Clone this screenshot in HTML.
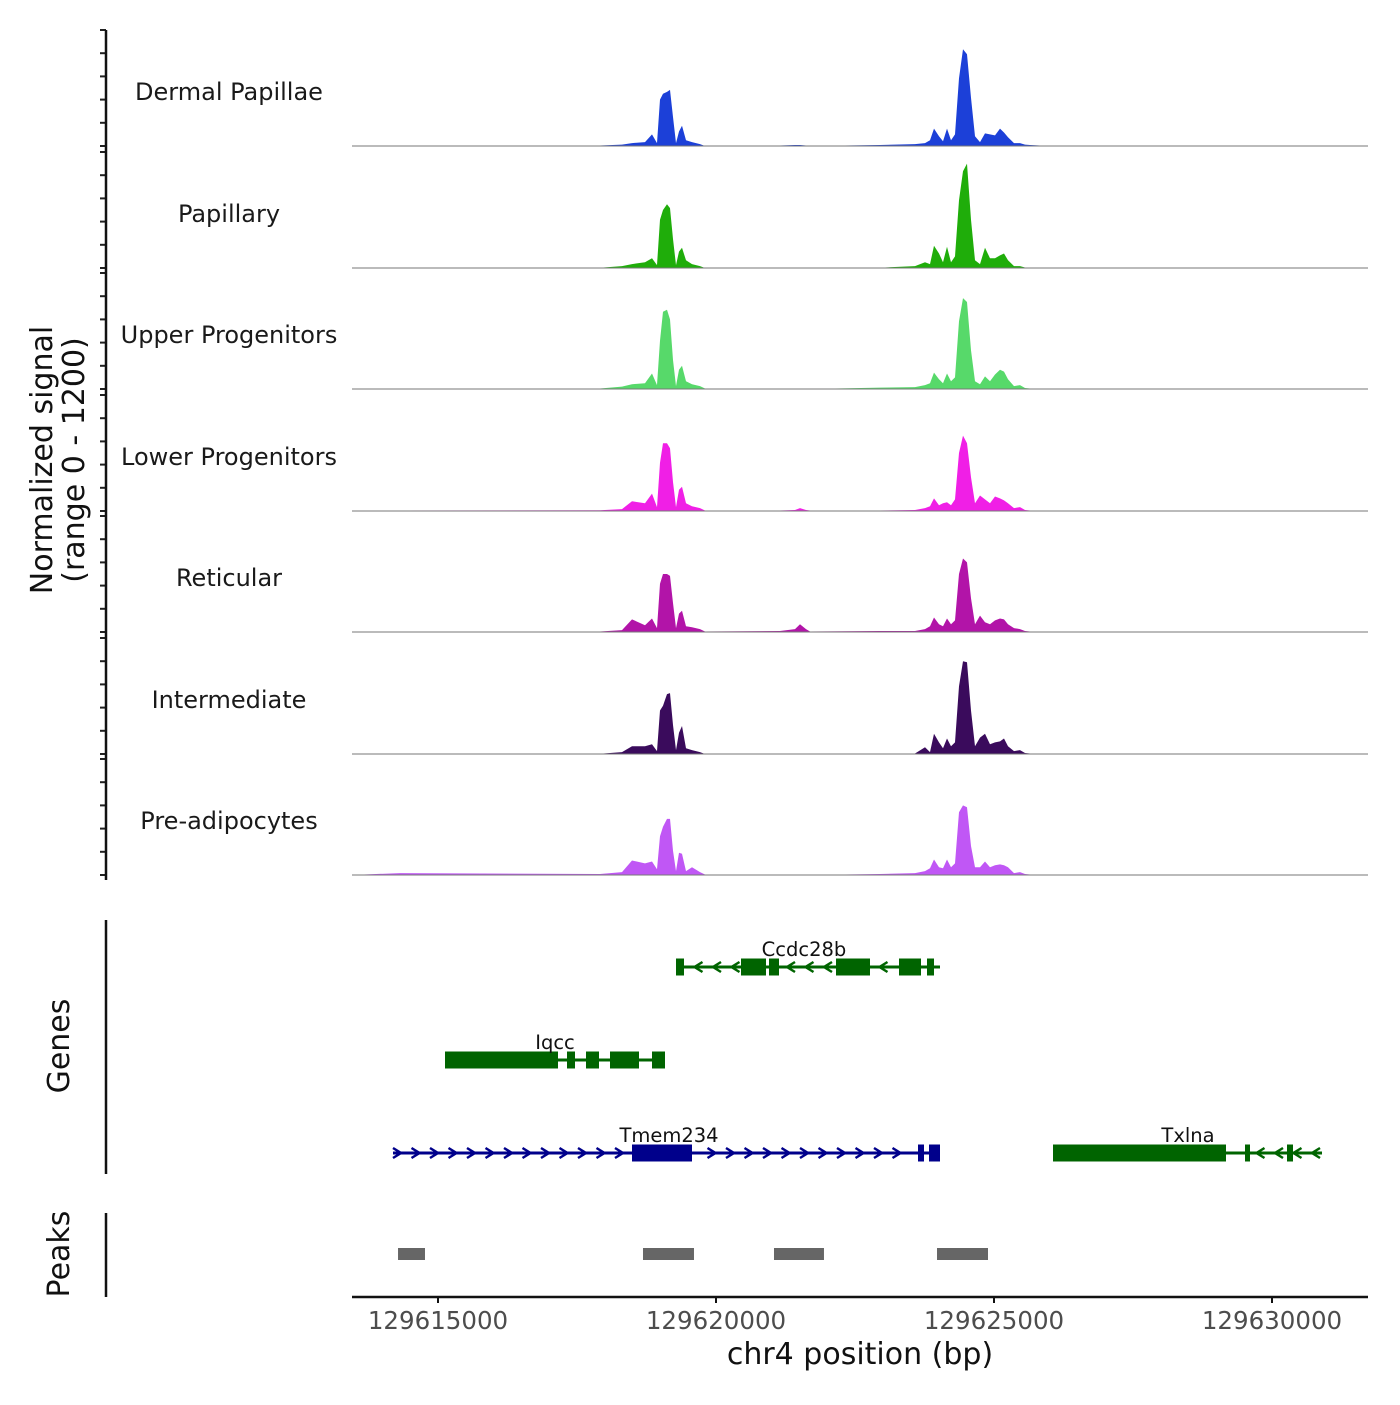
<!DOCTYPE html>
<html><head><meta charset="utf-8"><style>
body{margin:0;background:#fff}
svg text{font-family:"DejaVu Sans","Liberation Sans",sans-serif}
</style></head><body>
<svg id="chart" width="1400" height="1400" viewBox="0 0 1400 1400" xmlns="http://www.w3.org/2000/svg">
<g id="tracks"></g>
<g id="genes"></g>
<g id="peaks"></g>
<g id="axes"></g>
</svg>
<script>
const trackNames=["Dermal Papillae","Papillary","Upper Progenitors","Lower Progenitors","Reticular","Intermediate","Pre-adipocytes"];
const trackColors=["#1c40d8","#1fad0a","#57d96a","#f01fe6","#b214a8","#3a0b5c","#c057f5"];
const pxPts=[352,400,600,622,632,645,652,657,660,663,667,670,673,676,679,682,686,692,700,705,780,795,800,806,810,880,915,925,930,934,939,943,947,951,955,959,963,967,971,975,980,985,990,995,1000,1004,1008,1014,1020,1025,1030,1045,1368];
const sigPos=pxPts.map(p=>Math.round(129615000+(p-438)*5000/278));
const sigDP=[0,2,5,15,30,40,120,30,480,540,560,580,300,30,150,210,60,40,20,0,5,10,10,5,0,10,20,30,60,180,100,50,180,60,120,700,1000,950,500,100,40,130,120,110,180,140,90,30,30,15,10,2,0];
const sigPap=[0,2,3,20,40,60,100,30,500,600,660,620,300,30,170,210,80,40,20,0,2,2,2,2,0,3,20,60,40,230,150,60,220,60,120,700,1000,1080,500,80,40,210,100,100,130,150,80,20,20,5,2,0,0];
const sigUP=[0,5,5,25,50,60,160,40,500,800,820,720,300,30,200,240,80,50,30,5,5,5,5,5,0,15,20,40,60,170,100,60,160,80,120,700,940,900,400,80,50,130,80,150,200,180,100,30,40,10,5,2,0];
const sigLP=[0,5,8,20,100,80,180,40,500,700,700,650,300,40,220,250,80,50,30,5,5,10,30,10,5,5,10,30,50,130,60,80,90,60,120,600,780,700,350,80,160,120,80,150,130,110,80,30,40,10,5,2,0];
const sigRet=[0,5,5,20,130,70,140,40,500,600,600,580,300,40,190,220,60,50,30,5,10,30,80,30,5,10,10,30,60,150,80,60,140,80,120,600,760,720,350,80,170,100,80,120,140,130,80,40,30,10,5,2,0];
const sigInt=[0,3,3,20,80,80,100,30,450,500,620,630,300,40,220,290,60,40,20,0,2,3,5,2,0,3,5,70,20,210,120,60,160,80,120,700,960,950,450,80,170,210,100,120,130,160,80,30,40,10,5,2,0];
const sigPre=[0,20,10,30,150,120,140,60,400,500,580,580,250,40,230,220,40,80,30,5,5,5,5,5,0,10,20,40,70,160,80,70,160,80,120,650,720,700,300,80,80,140,80,100,110,100,80,20,30,10,5,2,0];
const allSig=[sigDP,sigPap,sigUP,sigLP,sigRet,sigInt,sigPre];
const xTicks=[129615000,129620000,129625000,129630000];
const peakStarts=[129614281,129618687,129621043,129623975];
const peakEnds=[129614766,129619604,129621942,129624892];

const NS="http://www.w3.org/2000/svg";
function mk(t,a,p){const e=document.createElementNS(NS,t);for(const k in a)e.setAttribute(k,a[k]);p.appendChild(e);return e;}
const X=bp=>438+(bp-129615000)*278/5000;
const bpOf=px=>129615000+(px-438)*5000/278;
const tops=[30,152,273,395,516,638,759], TH=116, YMAX=1200;
const gT=document.getElementById('tracks');
allSig.forEach((s,i)=>{
  const base=tops[i]+TH;
  const Y=v=>base-v/YMAX*TH;
  let d=`M${X(sigPos[0])},${base}`;
  s.forEach((v,j)=>{d+=` L${X(sigPos[j]).toFixed(1)},${Y(v).toFixed(1)}`;});
  d+=` L${X(sigPos[sigPos.length-1])},${base} Z`;
  const p=mk('path',{d:d,fill:trackColors[i]},gT);
  
  
  const l=mk('line',{x1:352,x2:1368,y1:base,y2:base,stroke:'#777','stroke-width':1},gT);
  
  
  const t=mk('text',{x:229,y:tops[i]+70,'text-anchor':'middle','font-size':24,fill:'#1a1a1a'},gT);
  t.textContent=trackNames[i];
  
  
  for(let k=0;k<=5;k++){
    const ty=base-k*TH/5;
    const tk=mk('line',{x1:100,x2:106,y1:ty,y2:ty,stroke:'#222','stroke-width':2},gT);
    
    
  }
});

const genes=[
 {name:'Ccdc28b',y:967,s:676,e:940,strand:-1,color:'#006400',ex:[[676,684],[741,766],[769,779],[836,870],[899,921],[927,934]],lx:804},
 {name:'Iqcc',y:1060,s:445,e:665,strand:-1,color:'#006400',ex:[[445,558],[567,575],[586,599],[610,639],[652,665]],lx:555},
 {name:'Tmem234',y:1153,s:393,e:940,strand:1,color:'#00008b',ex:[[632,692],[918,924],[929,940]],lx:669},
 {name:'Txlna',y:1153,s:1053,e:1322,strand:-1,color:'#006400',ex:[[1053,1226],[1245,1250],[1287,1293]],lx:1188}
].map(g=>({...g,s:bpOf(g.s),e:bpOf(g.e),ex:g.ex.map(a=>[bpOf(a[0]),bpOf(a[1])]),lx:bpOf(g.lx)}));
const gG=document.getElementById('genes');
genes.forEach(g=>{
  const grp=mk('g',{},gG);
  
  
  mk('line',{x1:X(g.s),x2:X(g.e),y1:g.y,y2:g.y,stroke:g.color,'stroke-width':3},grp);
  for(let x=X(g.s)+4;x<X(g.e)-4;x+=18.5){
    const inEx=g.ex.some(a=>x>X(a[0])-4&&x<X(a[1])+4);
    if(inEx)continue;
    const dx=4*g.strand;
    mk('polyline',{points:`${x-dx},${g.y-5} ${x+dx},${g.y} ${x-dx},${g.y+5}`,fill:'none',stroke:g.color,'stroke-width':2.5},grp);
  }
  g.ex.forEach(a=>{mk('rect',{x:X(a[0]),y:g.y-8.5,width:Math.max(3,X(a[1])-X(a[0])),height:17,fill:g.color},grp);});
  const t=mk('text',{x:X(g.lx),y:g.y-11,'text-anchor':'middle','font-size':19.5,fill:'#111'},grp);
  t.textContent=g.name;
});

const gP=document.getElementById('peaks');
peakStarts.forEach((s,i)=>{
  const r=mk('rect',{x:X(s),y:1248,width:X(peakEnds[i])-X(s),height:12,fill:'#666'},gP);
  
  
});

const gA=document.getElementById('axes');
function ln(a,name){const l=mk('line',a,gA);return l;}
ln({x1:106,x2:106,y1:30,y2:880,stroke:'#111','stroke-width':2.5},'y-axis-line');
ln({x1:106,x2:106,y1:920,y2:1174,stroke:'#111','stroke-width':2.5},'genes-axis-line');
ln({x1:106,x2:106,y1:1213,y2:1297,stroke:'#111','stroke-width':2.5},'peaks-axis-line');
ln({x1:352,x2:1368,y1:1297,y2:1297,stroke:'#111','stroke-width':2.5},'x-axis-line');
xTicks.forEach(v=>{
  ln({x1:X(v),x2:X(v),y1:1297,y2:1303,stroke:'#111','stroke-width':2},'x-tick');
  const t=mk('text',{x:X(v),y:1329,'text-anchor':'middle','font-size':24.5,fill:'#4d4d4d'},gA);
  t.textContent=v;
  
  
});
function rt(txt,x,y,name){const t=mk('text',{x:x,y:y,'text-anchor':'middle','font-size':30,fill:'#111',transform:`rotate(-90 ${x} ${y})`},gA);t.textContent=txt;}
rt('Normalized signal',52,460,'y-axis-title');
rt('(range 0 - 1200)',84,460,'y-axis-subtitle');
rt('Genes',69,1046,'genes-axis-title');
rt('Peaks',69,1254,'peaks-axis-title');
const xt=mk('text',{x:860,y:1364,'text-anchor':'middle','font-size':30,fill:'#111'},gA);
xt.textContent='chr4 position (bp)';


</script>
</body></html>
